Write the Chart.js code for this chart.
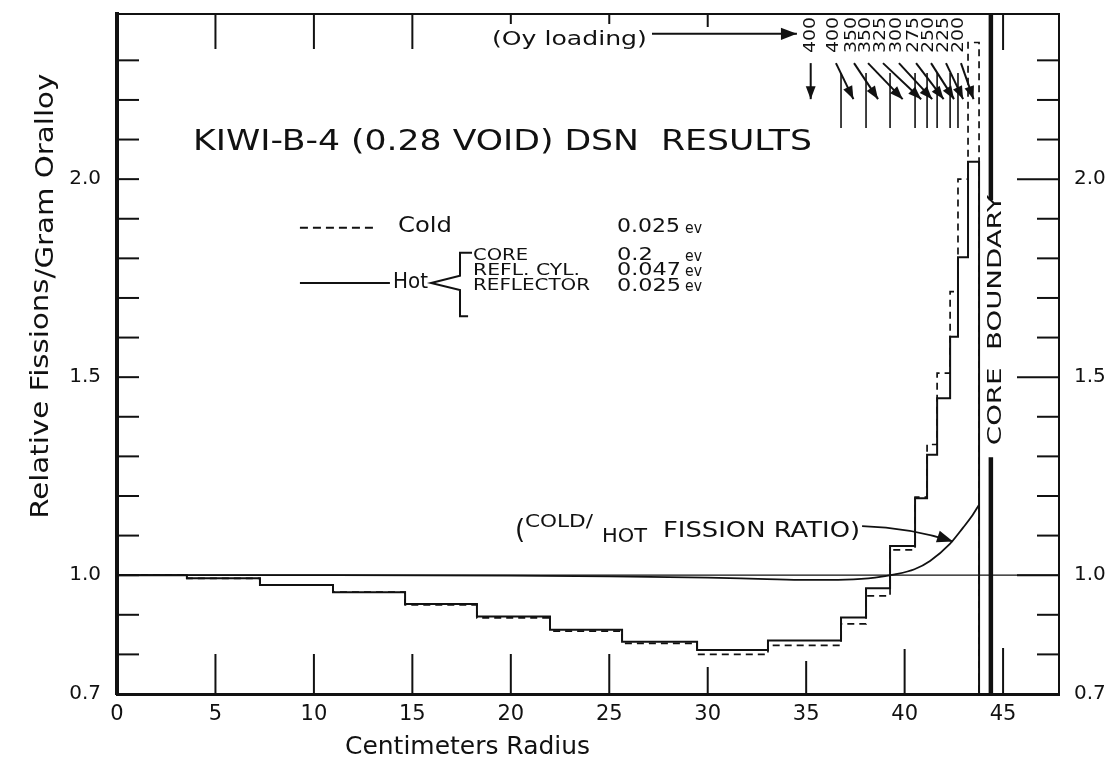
<!DOCTYPE html>
<html>
<head>
<meta charset="utf-8">
<script src="https://cdn.jsdelivr.net/npm/chart.js@4.4.0/dist/chart.umd.min.js"></script>
<style>html,body{margin:0;background:#fff}</style>
</head>
<body>
<canvas id="chart" width="1114" height="766"></canvas>
<script>
// KIWI-B-4 (0.28 void) DSN results - relative fissions per gram oralloy

// zone edges (cm radius), one value per zone
const zoneStart = [0, 3.55, 7.26, 10.97, 14.63, 18.28, 21.99, 25.65, 29.46, 33.06, 36.77, 38.04, 39.26, 40.53, 41.14, 41.65, 42.31, 42.71, 43.22];
const coreEdge = 43.78;
const hotFissions  = [1.0, 0.992, 0.975, 0.957, 0.927, 0.896, 0.862, 0.832, 0.811, 0.835, 0.893, 0.967, 1.074, 1.194, 1.304, 1.447, 1.602, 1.803, 2.044];
const coldFissions = [1.0, 0.992, 0.975, 0.957, 0.925, 0.892, 0.859, 0.828, 0.800, 0.823, 0.877, 0.948, 1.064, 1.197, 1.330, 1.510, 1.716, 2.000, 2.345];

// cold/hot fission ratio curve
const ratioRadius = [0, 10, 20, 25, 30, 33, 35, 37, 38.5, 39.5, 40.5, 41.29, 42.3, 42.97, 43.4, 43.78];
const ratioValues = [1.0, 1.0, 0.999, 0.997, 0.994, 0.990, 0.988, 0.989, 0.994, 1.002, 1.015, 1.036, 1.079, 1.120, 1.148, 1.178];

const coreBoundary = 44.38;

// Oy loading per zone (top annotations)
const loadingLabels  = ['400', '400', '350', '350', '325', '300', '275', '250', '225', '200'];
const loadingLabelX  = [35.23, 36.41, 37.33, 38.04, 38.80, 39.61, 40.48, 41.24, 42.00, 42.76];
const loadingTargetX = [35.23, 37.40, 38.65, 39.90, 40.84, 41.40, 41.98, 42.51, 42.97, 43.50];

// axes
const xMin = 0, xMax = 47.84;
const yMin = 0.7, yMax = 2.417;
const xTickLabels = [0, 5, 10, 15, 20, 25, 30, 35, 40, 45];
const yTickLabels = [0.7, 1.0, 1.5, 2.0];
const yMinorTicks = [0.8, 0.9, 1.1, 1.2, 1.3, 1.4, 1.6, 1.7, 1.8, 1.9, 2.1, 2.2, 2.3];
const yMajorTicks = [1.0, 1.5, 2.0];
const xBottomTicks = [5, 10, 15, 20, 25, 30, 35, 40, 45];
const xTopTicks = [5, 10, 15, 20, 25, 30, 45];

// tick mark lengths in px (style)
const bottomTickLen = [40, 40, 40, 40, 40, 27, 33, 45, 46];
const topTickLen = [35, 35, 35, 10, 10, 13, 36];

const ink = '#111';
const fam = '"DejaVu Sans", sans-serif';
Chart.defaults.font.family = fam;
Chart.defaults.color = ink;

const stepPoints = vals => zoneStart.map((r, i) => ({x: r, y: vals[i]})).concat([{x: coreEdge, y: yMin}]);

function text(ctx, str, px, py, size, o = {}) {
    ctx.save();
    ctx.font = size + 'px ' + fam;
    ctx.textBaseline = 'middle';
    ctx.translate(px, py);
    if (o.rot) ctx.rotate(o.rot);
    const w = ctx.measureText(str).width;
    const tw = o.w || w;
    if (o.align === 'center') ctx.translate(-tw / 2, 0);
    ctx.scale(tw / w, 1);
    ctx.fillText(str, 0, 0);
    ctx.restore();
}

function line(ctx, x1, y1, x2, y2) {
    ctx.beginPath();
    ctx.moveTo(x1, y1);
    ctx.lineTo(x2, y2);
    ctx.stroke();
}

function arrow(ctx, x1, y1, x2, y2, head, cx, cy) {
    ctx.beginPath();
    ctx.moveTo(x1, y1);
    if (cx !== undefined) ctx.quadraticCurveTo(cx, cy, x2, y2);
    else ctx.lineTo(x2, y2);
    ctx.stroke();
    const a = Math.atan2(y2 - (cy ?? y1), x2 - (cx ?? x1));
    const c = Math.cos(a), s = Math.sin(a), hw = head * 0.38;
    ctx.beginPath();
    ctx.moveTo(x2, y2);
    ctx.lineTo(x2 - head * c + hw * s, y2 - head * s - hw * c);
    ctx.lineTo(x2 - head * c - hw * s, y2 - head * s + hw * c);
    ctx.closePath();
    ctx.fill();
}

// frame ticks, labels and annotations
const annotate = {
    id: 'annotate',
    afterDraw(chart) {
        const {ctx, chartArea: a, scales: {x, y}} = chart;
        const X = v => x.getPixelForValue(v), Y = v => y.getPixelForValue(v);
        ctx.save();
        ctx.strokeStyle = ink;
        ctx.fillStyle = ink;

        // top border + inward ticks
        ctx.lineWidth = 2;
        line(ctx, a.left, a.top, a.right, a.top);
        yMinorTicks.forEach(v => {
            line(ctx, a.left, Y(v), a.left + 22, Y(v));
            line(ctx, a.right - 22, Y(v), a.right, Y(v));
        });
        yMajorTicks.forEach(v => {
            line(ctx, a.left, Y(v), a.left + 22, Y(v));
            line(ctx, a.right - 42, Y(v), a.right, Y(v));
        });
        xBottomTicks.forEach((v, i) => line(ctx, X(v), a.bottom, X(v), a.bottom - bottomTickLen[i]));
        xTopTicks.forEach((v, i) => line(ctx, X(v), a.top, X(v), a.top + topTickLen[i]));

        // axis titles
        ctx.save();
        ctx.translate(X(-3.81), Y(1.703));
        ctx.rotate(-Math.PI / 2);
        ctx.font = '24px ' + fam;
        ctx.textBaseline = 'middle';
        const p1 = 'Relative Fissions', p2 = '/Gram Oralloy';
        const w1 = ctx.measureText(p1).width, w2 = ctx.measureText(p2).width;
        const k = 445 / (w1 + w2);
        ctx.translate(-222, 0);
        ctx.scale(k, 1);
        ctx.fillText(p1, 0, 0);
        ctx.fillText(p2, w1, 5);
        ctx.restore();
        text(ctx, 'Centimeters Radius', X(11.58), Y(0.564), 24, {w: 245});

        // title
        text(ctx, 'KIWI-B-4 (0.28 VOID) DSN  RESULTS', X(3.86), Y(2.091), 28, {w: 619});

        // legend
        ctx.lineWidth = 2;
        ctx.setLineDash([8, 5]);
        line(ctx, X(9.29), Y(1.877), X(13.2), Y(1.877));
        ctx.setLineDash([]);
        line(ctx, X(9.29), Y(1.738), X(13.86), Y(1.738));
        text(ctx, 'Cold', X(14.27), Y(1.88), 22, {w: 54});
        text(ctx, 'Hot', X(14.02), Y(1.74), 22, {w: 35});
        ctx.beginPath();
        ctx.moveTo(X(18.03), Y(1.814));
        ctx.lineTo(X(17.42), Y(1.814));
        ctx.lineTo(X(17.42), Y(1.756));
        ctx.lineTo(X(15.95), Y(1.738));
        ctx.lineTo(X(17.42), Y(1.72));
        ctx.lineTo(X(17.42), Y(1.654));
        ctx.lineTo(X(17.83), Y(1.654));
        ctx.stroke();
        text(ctx, 'CORE', X(18.08), Y(1.806), 16, {w: 55});
        text(ctx, 'REFL. CYL.', X(18.08), Y(1.768), 16, {w: 107});
        text(ctx, 'REFLECTOR', X(18.08), Y(1.73), 16, {w: 117});
        text(ctx, '0.025', X(25.39), Y(1.879), 20, {w: 63});
        text(ctx, 'ev', X(28.85), Y(1.875), 15, {w: 17});
        text(ctx, '0.2', X(25.39), Y(1.806), 17, {w: 36});
        text(ctx, 'ev', X(28.85), Y(1.804), 15, {w: 17});
        text(ctx, '0.047', X(25.39), Y(1.768), 17, {w: 64});
        text(ctx, 'ev', X(28.85), Y(1.766), 15, {w: 17});
        text(ctx, '0.025', X(25.39), Y(1.73), 17, {w: 64});
        text(ctx, 'ev', X(28.85), Y(1.728), 15, {w: 17});

        // ratio label + curved arrow
        text(ctx, '(', X(20.21), Y(1.111), 26);
        text(ctx, 'COLD/', X(20.72), Y(1.134), 17, {w: 68});
        text(ctx, 'HOT', X(24.63), Y(1.096), 19, {w: 45});
        text(ctx, 'FISSION RATIO)', X(27.73), Y(1.111), 22, {w: 197});
        ctx.lineWidth = 1.6;
        arrow(ctx, X(37.84), Y(1.124), X(42.46), Y(1.085), 16, X(40.3), Y(1.12));

        // core boundary
        text(ctx, 'CORE  BOUNDARY', X(44.64), Y(1.644), 19, {w: 250, rot: -Math.PI / 2, align: 'center'});

        // Oy loading
        text(ctx, '(Oy loading)', X(19.04), Y(2.352), 20, {w: 155});
        ctx.lineWidth = 2;
        arrow(ctx, X(27.17), Y(2.367), X(34.53), Y(2.367), 16);
        loadingLabels.forEach((t, i) => {
            text(ctx, t, X(loadingLabelX[i]), Y(2.364), 16, {w: 36, rot: -Math.PI / 2, align: 'center'});
            arrow(ctx, X(loadingLabelX[i]) + (i ? 2 : 0), Y(2.293), X(loadingTargetX[i]), Y(2.202), 13);
        });
        ctx.lineWidth = 1.6;
        zoneStart.slice(10, 18).forEach(r => line(ctx, X(r), Y(2.268), X(r), Y(2.129)));

        ctx.restore();
    }
};

function noPad(s) {
    s.paddingTop = 0; s.paddingBottom = 0; s.paddingLeft = 0; s.paddingRight = 0;
}

new Chart(document.getElementById('chart'), {
    type: 'scatter',
    data: {
        datasets: [
            {
                label: 'Hot',
                data: stepPoints(hotFissions),
                showLine: true, stepped: 'before',
                borderColor: ink, borderWidth: 2
            },
            {
                label: 'Cold',
                data: stepPoints(coldFissions),
                showLine: true, stepped: 'before',
                borderColor: ink, borderWidth: 1.7, borderDash: [7, 5]
            },
            {
                label: 'Cold/Hot fission ratio',
                data: ratioRadius.map((r, i) => ({x: r, y: ratioValues[i]})),
                showLine: true, cubicInterpolationMode: 'monotone',
                borderColor: ink, borderWidth: 1.8
            },
            {
                label: 'Unity',
                data: [{x: xMin, y: 1.0}, {x: xMax, y: 1.0}],
                showLine: true, borderColor: ink, borderWidth: 1.3
            },
            {
                label: 'Core boundary (upper)',
                data: [{x: coreBoundary, y: yMax}, {x: coreBoundary, y: 1.947}],
                showLine: true, borderColor: ink, borderWidth: 4.5
            },
            {
                label: 'Core boundary (lower)',
                data: [{x: coreBoundary, y: 1.298}, {x: coreBoundary, y: yMin}],
                showLine: true, borderColor: ink, borderWidth: 4.5
            }
        ]
    },
    options: {
        responsive: false,
        animation: false,
        layout: {padding: {top: 14, left: 0, right: 0, bottom: 0}},
        elements: {point: {radius: 0, hoverRadius: 0}},
        plugins: {legend: {display: false}, tooltip: {enabled: false}},
        scales: {
            x: {
                type: 'linear', min: xMin, max: xMax,
                afterBuildTicks: s => { s.ticks = xTickLabels.map(v => ({value: v})); },
                afterFit: s => { s.height = 72; noPad(s); },
                grid: {display: false, drawTicks: false},
                border: {display: true, width: 3, color: ink},
                ticks: {autoSkip: false, maxRotation: 0, padding: 8, font: {size: 21}, color: ink}
            },
            y: {
                type: 'linear', position: 'left', min: yMin, max: yMax,
                afterBuildTicks: s => { s.ticks = yTickLabels.map(v => ({value: v})); },
                afterFit: s => { s.width = 117; noPad(s); },
                grid: {display: false, drawTicks: false},
                border: {display: true, width: 4, color: ink},
                ticks: {padding: 16, font: {size: 20}, color: ink, callback: v => v.toFixed(1)}
            },
            y2: {
                type: 'linear', position: 'right', min: yMin, max: yMax,
                afterBuildTicks: s => { s.ticks = yTickLabels.map(v => ({value: v})); },
                afterFit: s => { s.width = 55; noPad(s); },
                grid: {display: false, drawTicks: false},
                border: {display: true, width: 2, color: ink},
                ticks: {padding: 15, font: {size: 20}, color: ink, callback: v => v.toFixed(1)}
            }
        }
    },
    plugins: [annotate]
});
</script>
</body>
</html>
